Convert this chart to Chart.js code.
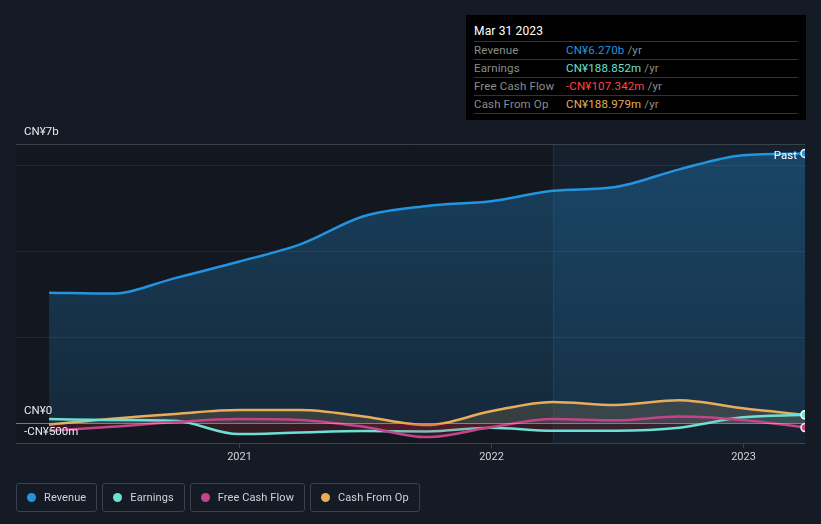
<!DOCTYPE html>
<html>
<head>
<meta charset="utf-8">
<script src="https://cdn.jsdelivr.net/npm/chart.js@4.4.0/dist/chart.umd.min.js"></script>
<style>
  html,body{margin:0;padding:0;background:#151b25;width:821px;height:524px;overflow:hidden;font-family:Roboto,"Noto Sans",sans-serif;}
  #wrap{position:absolute;left:0;top:0;width:821px;height:524px;}
  canvas{position:absolute;left:0;top:0;}
  #tip{position:absolute;left:466px;top:15px;width:340px;height:105px;background:#000;box-sizing:border-box;padding:0 8px;color:#fff;font-size:11.5px;letter-spacing:0.15px;}
  #tip .date{height:26px;line-height:32px;font-size:12px;color:#fff;border-bottom:1px solid #333;}
  #tip .row{height:17px;line-height:17px;border-bottom:1px solid #333;display:flex;}
  #tip .lab{width:92px;color:#8c8c8c;}
  #tip .unit{color:#8c8c8c;}
  #legend{position:absolute;left:16px;top:483px;display:flex;gap:5px;}
  .lg{height:29px;box-sizing:border-box;border:1px solid #3b414b;border-radius:3px;display:flex;align-items:center;padding:0 10px 0 10px;color:#cfd3d8;font-size:11px;letter-spacing:0.1px;}
  .lg .dot{width:9px;height:9px;border-radius:50%;margin-right:8px;}
</style>
</head>
<body>
<div id="wrap">
  <canvas id="c" width="821" height="524"></canvas>
  <div id="tip"></div>
  <div id="legend"></div>
</div>
<script>
// ---- data (billions CNY) ----
const quarters = ["2020-03-31","2020-06-30","2020-09-30","2020-12-31","2021-03-31","2021-06-30","2021-09-30","2021-12-31","2022-03-31","2022-06-30","2022-09-30","2022-12-31","2023-03-31"];
const revenue  = [3.03, 3.01, 3.37, 3.75, 4.16, 4.81, 5.05, 5.16, 5.40, 5.49, 5.90, 6.23, 6.27];
const earnings = [0.09, 0.07, 0.05, -0.26, -0.22, -0.19, -0.20, -0.11, -0.18, -0.18, -0.11, 0.13, 0.189];
const freeCashFlow = [-0.18, -0.09, 0.02, 0.09, 0.07, -0.09, -0.33, -0.10, 0.09, 0.06, 0.15, 0.07, -0.107];
const cashFromOp = [-0.04, 0.10, 0.21, 0.30, 0.30, 0.15, -0.05, 0.27, 0.49, 0.42, 0.53, 0.34, 0.189];
const seriesNames = ["Revenue","Earnings","Free Cash Flow","Cash From Op"];
const seriesColors = ["#2394df","#6ce1d3","#c4448b","#e8ad5c"];
const yTickLabels = [{v:6.49, t:"CN¥7b"},{v:0, t:"CN¥0"},{v:-0.49, t:"-CN¥500m"}];
const yGrid = [2,4,6];
const xTickYears = [2021, 2022, 2023];
const tooltipDate = "Mar 31 2023";
const tooltipValues = ["CN¥6.270b","CN¥188.852m","-CN¥107.342m","CN¥188.979m"];
const tooltipValueColors = ["#2394df","#6ce1d3","#ff4545","#e8ad5c"];
const highlightStart = "2022-03-31";

function toYear(s){
  const d = new Date(s+"T00:00:00Z");
  const y = d.getUTCFullYear();
  const start = Date.UTC(y,0,1), end = Date.UTC(y+1,0,1);
  return y + (d.getTime()-start)/(end-start) + 1/365;
}
const xs = quarters.map(toYear);
const pts = arr => arr.map((v,i)=>({x:xs[i], y:v}));
const lastOnly = (r) => (ctx)=> ctx.dataIndex === xs.length-1 ? r : 0;

// tooltip html
const tip = document.getElementById('tip');
let h = '<div class="date">'+tooltipDate+'</div>';
seriesNames.forEach((n,i)=>{
  h += '<div class="row"><span class="lab">'+n+'</span><span style="color:'+tooltipValueColors[i]+'">'+tooltipValues[i]+'</span><span class="unit">&nbsp;/yr</span></div>';
});
tip.innerHTML = h;
// legend html
const lg = document.getElementById('legend');
seriesNames.forEach((n,i)=>{
  lg.innerHTML += '<div class="lg"><span class="dot" style="background:'+seriesColors[i]+'"></span>'+n+'</div>';
});

const negFill = 'rgba(200,40,60,0.18)';

const bgPlugin = {
  id:'bg',
  beforeDraw(chart){
    const {ctx, chartArea:a, scales:{x,y}} = chart;
    ctx.save();
    ctx.fillStyle = '#131820';
    ctx.fillRect(a.left, a.top, a.right-a.left, a.bottom-a.top);
    const hx = x.getPixelForValue(toYear(highlightStart));
    ctx.fillStyle = 'rgba(25,45,65,0.45)';
    ctx.fillRect(hx, a.top, a.right-hx, a.bottom-a.top);
    ctx.fillStyle = 'rgba(60,90,120,0.25)';
    ctx.fillRect(hx, a.top, 1, a.bottom-a.top);
    // grid
    ctx.strokeStyle = 'rgba(255,255,255,0.07)';
    ctx.lineWidth = 1;
    yGrid.forEach(v=>{
      const py = Math.round(y.getPixelForValue(v))+0.5;
      ctx.beginPath(); ctx.moveTo(a.left,py); ctx.lineTo(a.right,py); ctx.stroke();
    });
    ctx.restore();
  },
  afterDatasetsDraw(chart){
    const {ctx, chartArea:a, scales:{x,y}} = chart;
    ctx.save();
    ctx.lineWidth = 1;
    ctx.strokeStyle = '#3c424c';
    ctx.beginPath(); ctx.moveTo(a.left,a.top+0.5); ctx.lineTo(a.right,a.top+0.5); ctx.stroke();
    ctx.beginPath(); ctx.moveTo(a.left,a.bottom-0.5); ctx.lineTo(a.right,a.bottom-0.5); ctx.stroke();
    const zy = Math.round(y.getPixelForValue(0))+0.5;
    ctx.strokeStyle = 'rgba(200,200,205,0.55)';
    ctx.beginPath(); ctx.moveTo(a.left,zy); ctx.lineTo(a.right,zy); ctx.stroke();
    // x ticks
    ctx.strokeStyle = '#3c424c';
    ctx.fillStyle = '#d0d3d8';
    ctx.font = '11px Roboto, "Noto Sans", sans-serif';
    ctx.textAlign = 'center'; ctx.textBaseline = 'middle';
    xTickYears.forEach(yr=>{
      const px = Math.round(x.getPixelForValue(yr))+0.5;
      ctx.beginPath(); ctx.moveTo(px,a.bottom); ctx.lineTo(px,a.bottom+4); ctx.stroke();
      ctx.fillText(String(yr), px, a.bottom+13);
    });
    // y labels
    ctx.textAlign = 'left';
    ctx.fillStyle = '#e6e8eb';
    ctx.font = '11.5px Roboto, "Noto Sans", sans-serif';
    yTickLabels.forEach(t=>{
      ctx.fillText(t.t, 24, y.getPixelForValue(t.v)-12);
    });
    // Past label
    const meta = chart.getDatasetMeta(0);
    const last = meta.data[meta.data.length-1];
    ctx.textAlign = 'right';
    ctx.fillStyle = '#ffffff';
    ctx.fillText('Past', last.x-8, last.y+3);
    ctx.restore();
  }
};

const ctx = document.getElementById('c').getContext('2d');
const revGrad = ctx.createLinearGradient(0,150,0,444);
revGrad.addColorStop(0,'rgba(35,148,223,0.32)');
revGrad.addColorStop(1,'rgba(35,148,223,0.12)');

function ds(label, data, color, fillAbove, order){
  return {
    label, data: pts(data), borderColor: color, backgroundColor: color,
    borderWidth: 2.5, cubicInterpolationMode:'monotone',
    fill: {target:'origin', above: fillAbove, below: negFill},
    pointRadius: lastOnly(4), pointBackgroundColor: color, pointBorderColor:'#ffffff', pointBorderWidth:1.5,
    pointHoverRadius:0, order
  };
}

new Chart(ctx, {
  type:'line',
  data:{ datasets:[
    ds(seriesNames[0], revenue, seriesColors[0], revGrad, 4),
    ds(seriesNames[1], earnings, seriesColors[1], 'rgba(108,225,211,0.06)', 2),
    ds(seriesNames[2], freeCashFlow, seriesColors[2], 'rgba(196,68,139,0.10)', 1),
    ds(seriesNames[3], cashFromOp, seriesColors[3], 'rgba(232,173,92,0.16)', 3),
  ]},
  options:{
    responsive:false, animation:false,
    layout:{padding:{left:16,right:16,top:144,bottom:80}},
    plugins:{legend:{display:false}, tooltip:{enabled:false}},
    events:[],
    scales:{
      x:{type:'linear', min:toYear("2020-02-12"), max:toYear("2023-03-31"), display:false},
      y:{type:'linear', min:-0.49, max:6.49, display:false}
    }
  },
  plugins:[bgPlugin]
});
</script>
</body>
</html>
